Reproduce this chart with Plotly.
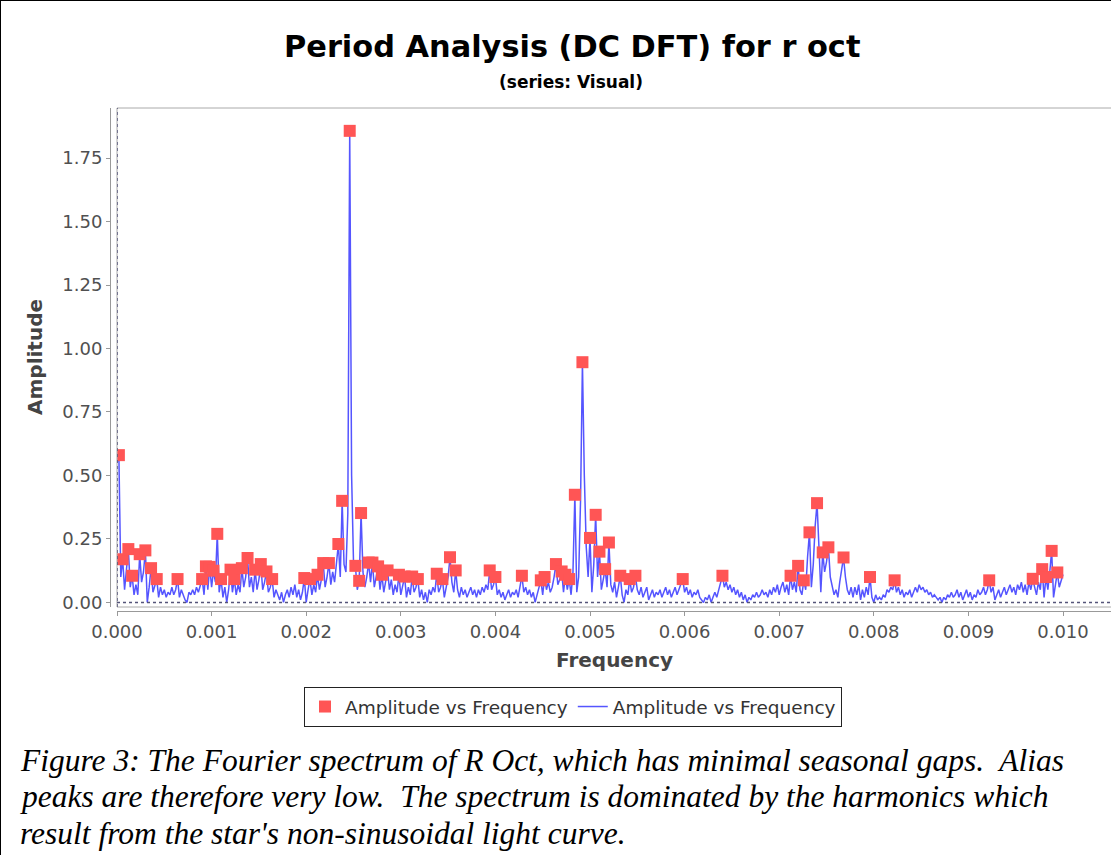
import numpy as np
import plotly.graph_objects as go

W, H = 1111, 855

# DC DFT frequency grid and amplitude spectrum
freq = np.round(np.arange(501) * 0.00002, 5)
amp = [
    0.55, 0.58, 0.10, 0.17, 0.05, 0.12, 0.21, 0.06, 0.105, 0.03,
    0.07, 0.03, 0.19, 0.08, 0.12, 0.205, 0.00, 0.06, 0.135, 0.04,
    0.07, 0.092, 0.02, 0.06, 0.03, 0.05, 0.02, 0.04, 0.03, 0.06,
    0.03, 0.05, 0.092, 0.02, 0.05, 0.03, 0.01, 0.00, 0.04, 0.03,
    0.05, 0.03, 0.06, 0.04, 0.07, 0.092, 0.03, 0.142, 0.05, 0.14,
    0.06, 0.125, 0.08, 0.27, 0.04, 0.092, 0.02, 0.06, 0.00, 0.05,
    0.129, 0.04, 0.092, 0.03, 0.07, 0.04, 0.135, 0.06, 0.10, 0.175,
    0.06, 0.10, 0.04, 0.129, 0.05, 0.09, 0.151, 0.05, 0.08, 0.122,
    0.04, 0.06, 0.092, 0.02, 0.05, 0.03, 0.01, 0.04, 0.00, 0.03,
    0.05, 0.02, 0.06, 0.03, 0.07, 0.02, 0.05, 0.01, 0.04, 0.096,
    0.00, 0.05, 0.092, 0.03, 0.07, 0.04, 0.109, 0.05, 0.09, 0.155,
    0.06, 0.10, 0.155, 0.07, 0.12, 0.08, 0.15, 0.23, 0.10, 0.40,
    0.15, 0.12, 0.35, 1.857, 0.50, 0.16, 0.144, 0.05, 0.085, 0.352,
    0.12, 0.06, 0.10, 0.157, 0.08, 0.157, 0.06, 0.10, 0.142, 0.05,
    0.109, 0.04, 0.08, 0.126, 0.05, 0.09, 0.03, 0.07, 0.04, 0.109,
    0.03, 0.06, 0.102, 0.02, 0.06, 0.03, 0.102, 0.04, 0.06, 0.092,
    0.02, 0.05, 0.01, 0.04, 0.00, 0.05, 0.03, 0.06, 0.04, 0.113,
    0.04, 0.06, 0.092, 0.02, 0.06, 0.10, 0.178, 0.08, 0.04, 0.126,
    0.05, 0.02, 0.06, 0.03, 0.05, 0.02, 0.04, 0.06, 0.03, 0.05,
    0.02, 0.05, 0.03, 0.06, 0.04, 0.07, 0.05, 0.126, 0.05, 0.07,
    0.10, 0.03, 0.05, 0.02, 0.04, 0.01, 0.03, 0.05, 0.02, 0.04,
    0.03, 0.05, 0.02, 0.06, 0.105, 0.04, 0.06, 0.03, 0.05, 0.02,
    0.04, 0.00, 0.03, 0.05, 0.087, 0.03, 0.10, 0.05, 0.08, 0.04,
    0.06, 0.10, 0.151, 0.07, 0.09, 0.122, 0.04, 0.109, 0.05, 0.092,
    0.03, 0.12, 0.424, 0.04, 0.10, 0.40, 0.946, 0.50, 0.22, 0.10,
    0.254, 0.04, 0.15, 0.345, 0.10, 0.20, 0.05, 0.09, 0.131, 0.06,
    0.236, 0.07, 0.04, 0.08, 0.02, 0.06, 0.105, 0.03, 0.00, 0.05,
    0.03, 0.092, 0.04, 0.06, 0.105, 0.05, 0.03, 0.06, 0.02, 0.04,
    0.06, 0.01, 0.03, 0.05, 0.02, 0.04, 0.03, 0.05, 0.02, 0.04,
    0.06, 0.03, 0.05, 0.02, 0.04, 0.06, 0.03, 0.05, 0.07, 0.092,
    0.04, 0.06, 0.03, 0.05, 0.02, 0.04, 0.03, 0.05, 0.02, 0.01,
    0.00, 0.02, 0.01, 0.03, 0.00, 0.02, 0.04, 0.02, 0.05, 0.07,
    0.105, 0.06, 0.08, 0.05, 0.07, 0.04, 0.06, 0.03, 0.05, 0.02,
    0.04, 0.01, 0.03, 0.00, 0.02, 0.01, 0.03, 0.02, 0.04, 0.02,
    0.03, 0.05, 0.03, 0.04, 0.02, 0.05, 0.03, 0.06, 0.04, 0.07,
    0.03, 0.06, 0.08, 0.04, 0.07, 0.03, 0.105, 0.05, 0.08, 0.04,
    0.144, 0.05, 0.03, 0.087, 0.05, 0.18, 0.276, 0.06, 0.15, 0.30,
    0.391, 0.22, 0.04, 0.197, 0.12, 0.16, 0.217, 0.10, 0.06, 0.03,
    0.05, 0.02, 0.08, 0.14, 0.177, 0.10, 0.05, 0.03, 0.06, 0.02,
    0.06, 0.03, 0.07, 0.01, 0.05, 0.02, 0.06, 0.03, 0.10, 0.02,
    0.00, 0.03, 0.01, 0.02, 0.01, 0.03, 0.02, 0.05, 0.04, 0.06,
    0.05, 0.087, 0.04, 0.06, 0.03, 0.05, 0.02, 0.04, 0.03, 0.05,
    0.02, 0.04, 0.06, 0.04, 0.07, 0.05, 0.06, 0.04, 0.05, 0.03,
    0.04, 0.02, 0.03, 0.02, 0.01, 0.02, 0.00, 0.02, 0.01, 0.03,
    0.02, 0.04, 0.02, 0.03, 0.05, 0.02, 0.04, 0.01, 0.03, 0.05,
    0.02, 0.04, 0.01, 0.03, 0.02, 0.05, 0.03, 0.04, 0.06, 0.03,
    0.05, 0.087, 0.04, 0.06, 0.01, 0.03, 0.05, 0.02, 0.04, 0.06,
    0.03, 0.05, 0.07, 0.04, 0.06, 0.03, 0.07, 0.05, 0.08, 0.04,
    0.07, 0.03, 0.08, 0.05, 0.093, 0.06, 0.03, 0.08, 0.05, 0.131,
    0.02, 0.10, 0.05, 0.12, 0.203, 0.02, 0.07, 0.118, 0.06, 0.09,
    0.11,
]

# top hits (red squares)
peak_freq = [
    0.00002, 0.00006, 0.00012, 0.00016, 0.00024, 0.0003, 0.00036, 0.00042,
    0.00064, 0.0009, 0.00094, 0.00098, 0.00102, 0.00106, 0.0011, 0.0012,
    0.00124, 0.00132, 0.00138, 0.00146, 0.00152, 0.00158, 0.00164, 0.00198,
    0.00204, 0.00212, 0.00218, 0.00224, 0.00234, 0.00238, 0.00246, 0.00252,
    0.00256, 0.00258, 0.00266, 0.0027, 0.00276, 0.0028, 0.00286, 0.00298,
    0.00304, 0.00312, 0.00318, 0.00338, 0.00344, 0.00352, 0.00358, 0.00394,
    0.004, 0.00428, 0.00448, 0.00452, 0.00464, 0.0047, 0.00474, 0.00478,
    0.00484, 0.00492, 0.005, 0.00506, 0.0051, 0.00516, 0.0052, 0.00532,
    0.00542, 0.00548, 0.00598, 0.0064, 0.00712, 0.0072, 0.00726, 0.00732,
    0.0074, 0.00746, 0.00752, 0.00768, 0.00796, 0.00822, 0.00922, 0.00968,
    0.00978, 0.00982, 0.00988, 0.00994,
]
peak_amp = [
    0.58, 0.17, 0.21, 0.105, 0.19, 0.205, 0.135, 0.092,
    0.092, 0.092, 0.142, 0.14, 0.125, 0.27, 0.092, 0.129,
    0.092, 0.135, 0.175, 0.129, 0.151, 0.122, 0.092, 0.096,
    0.092, 0.109, 0.155, 0.155, 0.23, 0.40, 1.857, 0.144,
    0.085, 0.352, 0.157, 0.157, 0.142, 0.109, 0.126, 0.109,
    0.102, 0.102, 0.092, 0.113, 0.092, 0.178, 0.126, 0.126,
    0.10, 0.105, 0.087, 0.10, 0.151, 0.122, 0.109, 0.092,
    0.424, 0.946, 0.254, 0.345, 0.20, 0.131, 0.236, 0.105,
    0.092, 0.105, 0.092, 0.105, 0.105, 0.144, 0.087, 0.276,
    0.391, 0.197, 0.217, 0.177, 0.10, 0.087, 0.087, 0.093,
    0.131, 0.10, 0.203, 0.118,
]

y_ticks = [0, 0.25, 0.5, 0.75, 1.0, 1.25, 1.5, 1.75]
x_ticks = [0, 0.001, 0.002, 0.003, 0.004, 0.005, 0.006, 0.007, 0.008, 0.009, 0.010]

caption = [
    "Figure 3: The Fourier spectrum of R Oct, which has minimal seasonal gaps.\u00a0 Alias",
    "peaks are therefore very low.\u00a0 The spectrum is dominated by the harmonics which",
    "result from the star's non-sinusoidal light curve.",
]

# plot box in pixels
L, R, T, B = 117, 1111, 108, 607
px = lambda x: x / W
py = lambda y: 1 - y / H

fig = go.Figure()
fig.add_trace(go.Scatter(x=freq, y=amp, mode='lines', name='Amplitude vs Frequency',
                         line=dict(color='#5555FF', width=1.5), legendrank=2))
fig.add_trace(go.Scatter(x=peak_freq, y=peak_amp, mode='markers', name='Amplitude vs Frequency',
                         marker=dict(symbol='square', size=12, color='#FF5555', line=dict(width=0)),
                         legendrank=1))

tickfont = dict(family='DejaVu Sans', size=18, color='#505050')
fig.update_layout(
    width=W, height=H, margin=dict(l=0, r=0, t=0, b=0, autoexpand=False),
    paper_bgcolor='white', plot_bgcolor='white',
    xaxis=dict(domain=[px(L), 1], range=[0, (R - L) / 94600], anchor='free', position=py(611),
               automargin=False,
               tickvals=x_ticks, tickformat='.3f', showgrid=False, zeroline=False,
               showline=True, linecolor='#999999', linewidth=1,
               ticks='outside', ticklen=4, tickcolor='#999999', tickfont=tickfont),
    yaxis=dict(domain=[py(B), py(T)], range=[-0.018, 1.947], anchor='free', position=px(110),
               automargin=False,
               tickvals=y_ticks, tickformat='.2f', showgrid=False, zeroline=False,
               showline=True, linecolor='#999999', linewidth=1,
               ticks='outside', ticklen=4, tickcolor='#999999', tickfont=tickfont),
    showlegend=True,
    legend=dict(orientation='h', x=px(573), xanchor='center', y=py(687), yanchor='top',
                bordercolor='#222222', borderwidth=1, bgcolor='white',
                font=dict(family='DejaVu Sans', size=18.5, color='#333333')),
)

shapes = [
    # plot outline
    dict(type='rect', xref='paper', yref='paper', x0=px(L), x1=1.01, y0=py(B), y1=py(T),
         line=dict(color='#aaaaaa', width=1)),
    # zero markers
    dict(type='line', xref='x', yref='paper', x0=0, x1=0, y0=py(B), y1=py(T),
         line=dict(color='#55557a', width=1.5, dash='dot')),
    dict(type='line', xref='paper', yref='y', x0=px(L), x1=1, y0=0, y1=0,
         line=dict(color='#55557a', width=1.5, dash='dot')),
    # page frame
    dict(type='line', xref='paper', yref='paper', x0=0, x1=1, y0=1, y1=1,
         line=dict(color='black', width=2)),
    dict(type='line', xref='paper', yref='paper', x0=0, x1=0, y0=0, y1=1,
         line=dict(color='black', width=2)),
]
fig.update_layout(shapes=shapes)

def label(x, y, text, size, color='black', angle=0):
    fig.add_annotation(x=px(x), y=py(y), xref='paper', yref='paper', showarrow=False,
                       xanchor='center', yanchor='middle', text=text, textangle=angle,
                       font=dict(family='DejaVu Sans', size=size, color=color, weight='bold'))

label(572, 47, 'Period Analysis (DC DFT) for r oct', 30.4)
label(571, 82, '(series: Visual)', 17)
label(614, 660, 'Frequency', 20, '#444444')
label(35, 357, 'Amplitude', 20, '#444444', -90)

for i, line in enumerate(caption):
    fig.add_annotation(x=px(18), y=py(760 + 36.5 * i), xref='paper', yref='paper',
                       showarrow=False, xanchor='left', yanchor='middle', text=line,
                       font=dict(family='Liberation Serif', size=31.5, color='black', style='italic'))

fig.write_html("out.html", config={'displayModeBar': False},
               post_script="document.body.style.margin='0px';")
